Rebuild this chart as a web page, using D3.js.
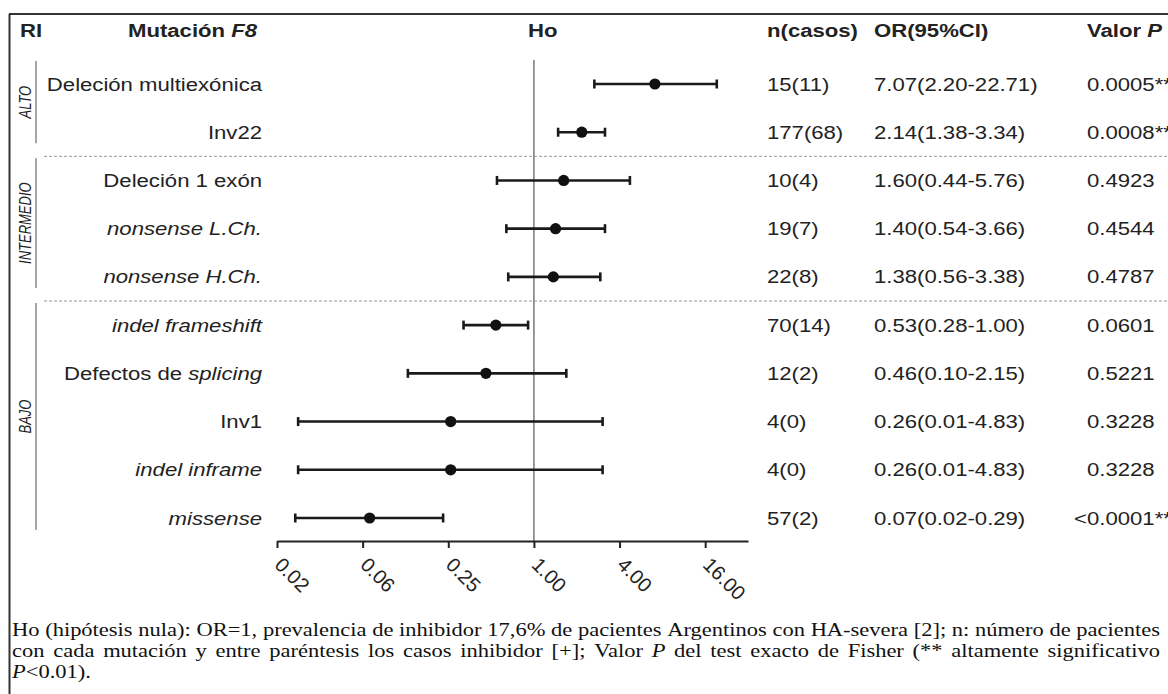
<!DOCTYPE html>
<html><head><meta charset="utf-8">
<script src="https://cdn.jsdelivr.net/npm/d3@7"></script>
<style>body{margin:0;background:#fff} svg{display:block}</style>
</head><body>
<svg id="c" width="1168" height="694"></svg>
<script>
// ---------- data ----------
const mutations = ["Deleción multiexónica","Inv22","Deleción 1 exón","<i>nonsense L.Ch.</i>","<i>nonsense H.Ch.</i>","<i>indel frameshift</i>","Defectos de <i>splicing</i>","Inv1","<i>indel inframe</i>","<i>missense</i>"];
const riskGroups = ["ALTO","INTERMEDIO","BAJO"];
const groupSizes = [2,3,5];
const orValues = [7.09, 2.17, 1.62, 1.42, 1.37, 0.54, 0.46, 0.26, 0.26, 0.07];
const ciLow   = [2.66, 1.48, 0.55, 0.64, 0.66, 0.32, 0.13, 0.022, 0.022, 0.021];
const ciHigh  = [19.3, 3.16, 4.73, 3.16, 2.93, 0.91, 1.69, 3.04, 3.04, 0.23];
const nCasos  = ["15(11)","177(68)","10(4)","19(7)","22(8)","70(14)","12(2)","4(0)","4(0)","57(2)"];
const orText  = ["7.07(2.20-22.71)","2.14(1.38-3.34)","1.60(0.44-5.76)","1.40(0.54-3.66)","1.38(0.56-3.38)","0.53(0.28-1.00)","0.46(0.10-2.15)","0.26(0.01-4.83)","0.26(0.01-4.83)","0.07(0.02-0.29)"];
const pValues = ["0.0005**","0.0008**","0.4923","0.4544","0.4787","0.0601","0.5221","0.3228","0.3228","<0.0001**"];
const tickValues = [1/64, 1/16, 1/4, 1, 4, 16];
const tickLabels = ["0.02","0.06","0.25","1.00","4.00","16.00"];
const headers = ["RI","Mutación <i>F8</i>","Ho","n(casos)","OR(95%CI)","Valor <i>P</i>"];
const captionLines = [
  "Ho (hipótesis nula): OR=1, prevalencia de inhibidor 17,6% de pacientes Argentinos con HA-severa [2]; n: número de pacientes",
  "con cada mutación y entre paréntesis los casos inhibidor [+]; Valor <i>P</i> del test exacto de Fisher (** altamente significativo",
  "<i>P</i><0.01)."
];

// ---------- setup ----------
const svg = d3.select("#c");
const FONT = "Arial, 'Liberation Sans', Helvetica, sans-serif";
const SERIF = "'Liberation Serif', 'Times New Roman', Times, serif";
const SX = 1.23;
const INK = "#222";

const x = d3.scaleLog().base(4).domain([1/64, 32]).range([277, 748]);
const y = d3.scalePoint().domain(d3.range(mutations.length)).range([84, 518]);

function rich(sel, markup){
  let it = false;
  markup.split(/(<\/?i>)/).forEach(p => {
    if (p === "<i>") { it = true; return; }
    if (p === "</i>") { it = false; return; }
    if (!p) return;
    sel.append("tspan").text(p).style("font-style", it ? "italic" : null);
  });
  return sel;
}
function label(px, py, markup, opts = {}){
  const t = svg.append("text")
    .attr("transform", `translate(${px},${py}) scale(${opts.sx ?? SX},1)`)
    .attr("text-anchor", opts.anchor || "start")
    .style("font-family", FONT)
    .style("font-size", (opts.size || 18) + "px")
    .style("font-weight", opts.bold ? "bold" : null)
    .style("fill", opts.fill || INK);
  return rich(t, markup);
}

// ---------- frame ----------
svg.append("line").attr("x1", 9).attr("x2", 1168).attr("y1", 14).attr("y2", 14).attr("stroke", "#333").attr("stroke-width", 2);
svg.append("line").attr("x1", 9.5).attr("x2", 9.5).attr("y1", 14).attr("y2", 694).attr("stroke", "#333").attr("stroke-width", 2);

// ---------- headers ----------
const headerX = [20, 128, x(1) - 6, 767, 874, 1087];
headers.forEach((h, i) => label(headerX[i], 37, h, {bold: true}));

// ---------- separators & groups ----------
let start = 0;
const boundaries = [];
groupSizes.forEach((n, gi) => {
  const first = start, last = start + n - 1;
  const top = gi === 0 ? y(first) - 23 : (y(first - 1) + y(first)) / 2 + 2;
  const bottom = gi === groupSizes.length - 1 ? y(last) + 12 : (y(last) + y(last + 1)) / 2 - 13;
  svg.append("line").attr("x1", 36).attr("x2", 36).attr("y1", top).attr("y2", bottom)
    .attr("stroke", "#888").attr("stroke-width", 1.5);
  const cy = (top + bottom) / 2;
  svg.append("text")
    .attr("transform", `translate(30.5,${cy}) rotate(-90) scale(1,${SX})`)
    .attr("text-anchor", "middle")
    .style("font-family", FONT).style("font-size", "13px").style("font-style", "italic")
    .style("fill", INK).text(riskGroups[gi]);
  if (gi < groupSizes.length - 1) boundaries.push((y(last) + y(last + 1)) / 2);
  start += n;
});
boundaries.forEach(b => {
  svg.append("line").attr("x1", 44).attr("x2", 1168).attr("y1", b).attr("y2", b)
    .attr("stroke", "#999").attr("stroke-width", 1).attr("stroke-dasharray", "3,2");
});

// ---------- reference line ----------
svg.append("line").attr("x1", x(1)).attr("x2", x(1)).attr("y1", 60).attr("y2", 541)
  .attr("stroke", "#808080").attr("stroke-width", 1.6);

// ---------- rows ----------
mutations.forEach((m, i) => {
  const cy = y(i);
  label(262, cy + 6.5, m, {anchor: "end"});
  label(767, cy + 6.5, nCasos[i]);
  label(874, cy + 6.5, orText[i]);
  const pv = pValues[i];
  if (pv.startsWith("<")) {
    label(1087, cy + 6.5, "<", {anchor: "end"});
    label(1087, cy + 6.5, pv.slice(1));
  } else {
    label(1087, cy + 6.5, pv);
  }
});

const g = svg.append("g");
const rows = g.selectAll("g.row").data(d3.range(mutations.length)).join("g").attr("class", "row");
rows.append("line")
  .attr("x1", i => x(ciLow[i])).attr("x2", i => x(ciHigh[i]))
  .attr("y1", i => y(i)).attr("y2", i => y(i))
  .attr("stroke", "#1a1a1a").attr("stroke-width", 2.6);
[ciLow, ciHigh].forEach(arr => {
  rows.append("line")
    .attr("x1", i => x(arr[i])).attr("x2", i => x(arr[i]))
    .attr("y1", i => y(i) - 4.5).attr("y2", i => y(i) + 4.5)
    .attr("stroke", "#1a1a1a").attr("stroke-width", 2.6);
});
rows.append("circle")
  .attr("cx", i => x(orValues[i])).attr("cy", i => y(i)).attr("r", 5.6)
  .attr("fill", "#111");

// ---------- axis ----------
const axis = svg.append("g").attr("transform", "translate(0,541)")
  .call(d3.axisBottom(x).tickValues(tickValues).tickFormat((d, i) => tickLabels[i])
    .tickSizeInner(7).tickSizeOuter(0));
axis.select(".domain").attr("stroke", INK).attr("stroke-width", 2);
axis.selectAll(".tick line").attr("stroke", INK).attr("stroke-width", 2);
axis.selectAll(".tick text")
  .attr("x", 0).attr("y", 0).attr("dy", 0)
  .attr("text-anchor", "start")
  .attr("transform", "translate(-4,25) rotate(45)")
  .style("font-family", FONT).style("font-size", "20px").style("fill", INK);

// ---------- caption (justified, horizontally scaled to fill the width) ----------
const capX0 = 12, capX1 = 1160, capY = [636, 657, 678];
const capW = capX1 - capX0;
let capSX = 1;
captionLines.forEach((line, li) => {
  const t = svg.append("text")
    .style("font-family", SERIF).style("font-size", "19px").style("fill", "#111");
  const words = [[]];
  let it = false;
  line.split(/(<\/?i>)/).forEach(p => {
    if (p === "<i>") { it = true; return; }
    if (p === "</i>") { it = false; return; }
    if (!p) return;
    p.split(/( )/).forEach(s => {
      if (s === " ") { words.push([]); return; }
      if (s) words[words.length - 1].push({t: s, it});
    });
  });
  const ws = words.filter(w => w.length);
  const spans = ws.map(w => w.map(seg => t.append("tspan").text(seg.t).style("font-style", seg.it ? "italic" : null)));
  const widths = spans.map(sp => d3.sum(sp, s => s.node().getComputedTextLength()));
  const natGap = 4.75;
  if (li === 0) capSX = capW / (d3.sum(widths) + natGap * (ws.length - 1));
  const last = li === captionLines.length - 1;
  const gap = last ? natGap : (capW / capSX - d3.sum(widths)) / (ws.length - 1);
  let cx = 0;
  spans.forEach((sp, k) => {
    sp[0].attr("x", cx);
    cx += widths[k] + gap;
  });
  t.attr("transform", `translate(${capX0},${capY[li]}) scale(${capSX},1)`);
});
</script>
</body></html>
